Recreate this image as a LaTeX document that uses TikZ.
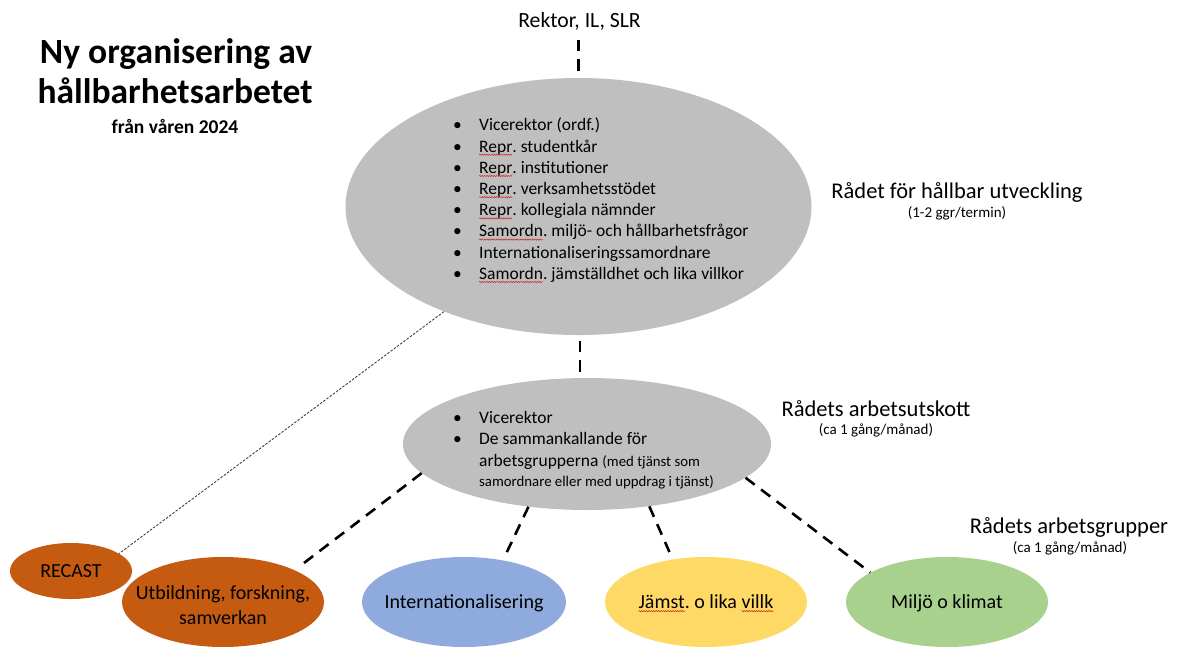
\documentclass[tikz,border=0pt]{standalone}
\usepackage{fontspec}
\setmainfont{Carlito}
\usetikzlibrary{shapes.geometric,decorations.pathmorphing}
\frenchspacing
\definecolor{graybg}{HTML}{BFBFBF}
\definecolor{orng}{HTML}{C55A11}
\definecolor{blu}{HTML}{8FAADC}
\definecolor{yel}{HTML}{FFD966}
\definecolor{grn}{HTML}{A9D18E}
\definecolor{spellred}{HTML}{D42020}
\newcommand\spellerr[1]{\tikz[baseline=(sw.base), trim left=(sw.west), trim right=(sw.east)]{\node[inner sep=0pt,outer sep=0pt,anchor=base] (sw) {#1};%
  \draw[spellred, line width=0.5pt, decorate, decoration={snake, amplitude=0.6pt, segment length=2.4pt}]%
   ([yshift=-2.6pt]sw.base west) -- ([yshift=-2.6pt]sw.base east);}}
\newcommand\bul{\makebox[26pt][l]{•}}
\begin{document}
\begin{tikzpicture}[x=1pt,y=-1pt,
  oval/.style={ellipse, inner sep=0, draw=none},
  conn/.style={line width=2.6pt, dash pattern=on 11.5pt off 8pt, black},
  thinconn/.style={line width=0.9pt, dash pattern=on 2.5pt off 1.5pt, black!75},
  lbl/.style={font=\fontsize{20}{25}\selectfont, align=center, inner sep=0},
  bl/.style={font=\fontsize{17.5}{21.2}\selectfont, inner sep=0, anchor=base west},
  head/.style={font=\fontsize{22.5}{27}\selectfont, inner sep=0, anchor=base},
  sub/.style={font=\fontsize{15}{18}\selectfont, inner sep=0, anchor=base},
  ttl/.style={font=\bfseries\fontsize{35.5}{40}\selectfont, inner sep=0, anchor=base}]
\useasboundingbox (0,0) rectangle (1177,646);

% ellipses
\node[oval, fill=graybg, minimum width=466pt, minimum height=257pt] (big) at (578.5,206.5) {};
\node[oval, fill=graybg, minimum width=368pt, minimum height=132pt] (mid) at (587,444) {};
\node[oval, fill=orng, minimum width=122pt, minimum height=56pt] (recast) at (71,571) {};
\node[oval, fill=orng, minimum width=202pt, minimum height=90pt] (utb) at (223,602) {};
\node[oval, fill=blu, minimum width=204pt, minimum height=90pt] (intl) at (464,602) {};
\node[oval, fill=yel, minimum width=202pt, minimum height=90pt] (jam) at (706,602) {};
\node[oval, fill=grn, minimum width=202pt, minimum height=90pt] (milj) at (947,602) {};

% title
\node[ttl] (t1) at (176,63) {Ny organisering av};
\node[ttl] (t2) at (175,103) {hållbarhetsarbetet};
\node[ttl, font=\bfseries\fontsize{19.5}{22}\selectfont] (t3) at (175,133) {från våren 2024};

% top label
\node[anchor=base, inner sep=0, font=\fontsize{21.7}{26}\selectfont] (rektor) at (579.5,27) {Rektor, IL, SLR};

% big ellipse text
\node[anchor=west, inner sep=0, align=left, font=\fontsize{17.5}{21.2}\selectfont] (bigT) at (453,200.5)
 {\bul Vicerektor (ordf.)\\
  \bul \spellerr{Repr}. studentkår\\
  \bul \spellerr{Repr}. institutioner\\
  \bul \spellerr{Repr}. verksamhetsstödet\\
  \bul \spellerr{Repr}. kollegiala nämnder\\
  \bul \spellerr{Samordn}. miljö- och hållbarhetsfrågor\\
  \bul Internationaliseringssamordnare\\
  \bul \spellerr{Samordn}. jämställdhet och lika villkor};

% mid ellipse text
\node[bl] (m1) at (453,423) {\bul Vicerektor};
\node[bl] (m2) at (453,444) {\bul De sammankallande för};
\node[bl] (m3) at (479,466) {arbetsgrupperna {\fontsize{14.8}{17}\selectfont (med tjänst som}};
\node[bl, font=\fontsize{14.8}{17}\selectfont] (m4) at (479,486) {samordnare eller med uppdrag i tjänst)};

% right labels
\node[head] (radet) at (957,198) {Rådet för hållbar utveckling};
\node[sub] (radetF) at (957,217) {(1-2 ggr/termin)};
\node[head] (au) at (876,416) {Rådets arbetsutskott};
\node[sub] (auF) at (876,434) {(ca 1 gång/månad)};
\node[head] (ag) at (1069,533) {Rådets arbetsgrupper};
\node[sub] (agF) at (1070,552) {(ca 1 gång/månad)};

% bottom labels
\node[lbl] (recastT) at (71,571) {RECAST};
\node[lbl] (utbT) at (223,605) {Utbildning, forskning,\\samverkan};
\node[lbl, anchor=base] (intlT) at (464,608.5) {Internationalisering};
\node[lbl, anchor=base] (jamT) at (706,608.5) {\spellerr{Jämst}. o lika \spellerr{villk}};
\node[lbl, anchor=base] (miljT) at (947,608.5) {Miljö o klimat};

% connectors
\draw[conn, shorten <=10pt] (rektor.south -| big.north) -- (big.north);
\draw[conn, shorten <=5.5pt] ([xshift=1.5pt]big.south) -- ([xshift=1.5pt]big.south |- mid.north);
\draw[conn, shorten >=8pt] (mid.190.6) -- (utb.24);
\draw[conn, shorten >=9pt] (mid.227.8) -- (intl.47.4);
\draw[conn, shorten >=8pt] (mid.315.4) -- (jam.128.5);
\draw[conn] (mid.348) -- (milj.159);
\draw[thinconn] (big.218.7) -- (recast.20);
\end{tikzpicture}
\end{document}
